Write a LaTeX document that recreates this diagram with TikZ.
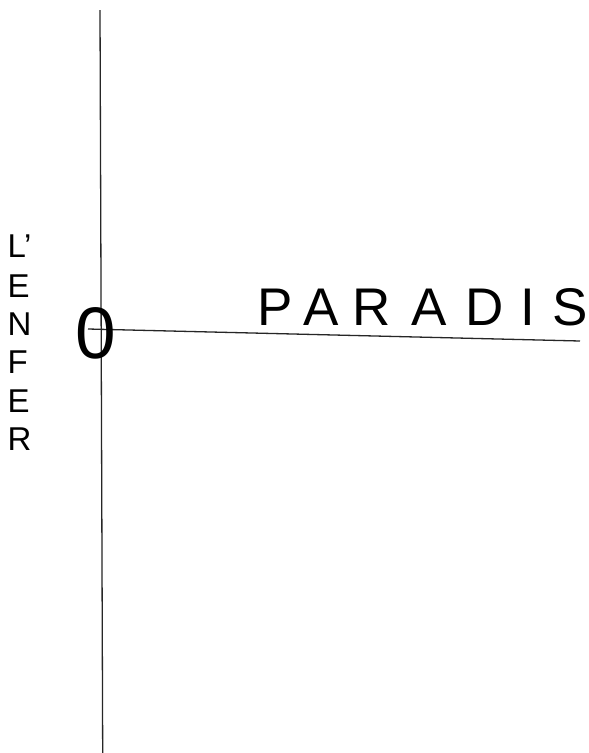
\documentclass[tikz,border=0pt]{standalone}
\usepackage{fontspec}
\setmainfont{Liberation Sans}
\usetikzlibrary{positioning}

\begin{document}
\begin{tikzpicture}[x=1pt, y=-1pt,
    axis/.style={line width=1.3pt, black!85},
    bigletter/.style={inner sep=0pt, anchor=base, font=\fontsize{53}{53}\selectfont},
    sideletter/.style={inner sep=0pt, anchor=base west, font=\fontsize{33}{33}\selectfont},
    zero/.style={inner sep=0pt, anchor=base, font=\fontsize{73}{73}\selectfont}]
  \useasboundingbox[fill=white] (0,0) rectangle (589,753);

  % axes
  \coordinate (top) at (100,10);
  \coordinate (bot) at (102.7,753);
  \coordinate (left) at (88,329);
  \coordinate (right) at (580,341);
  \draw[axis] (top) -- (bot);
  \draw[axis] (left) -- (right);

  \node[zero] (origin) at (95.5,358.5) {0};

  % paradis
  \foreach \ch/\x [count=\i] in {P/275, A/321, R/372, A/429, D/485, I/527.5, S/570}
    \node[bigletter] (par\i) at (\x,325) {\ch};

  % l'enfer
  \foreach \ch/\y [count=\i] in {L’/257, E/297, N/335, F/373, E/412, R/450}
    \node[sideletter] (enf\i) at (7.5,\y) {\ch};
\end{tikzpicture}
\end{document}
